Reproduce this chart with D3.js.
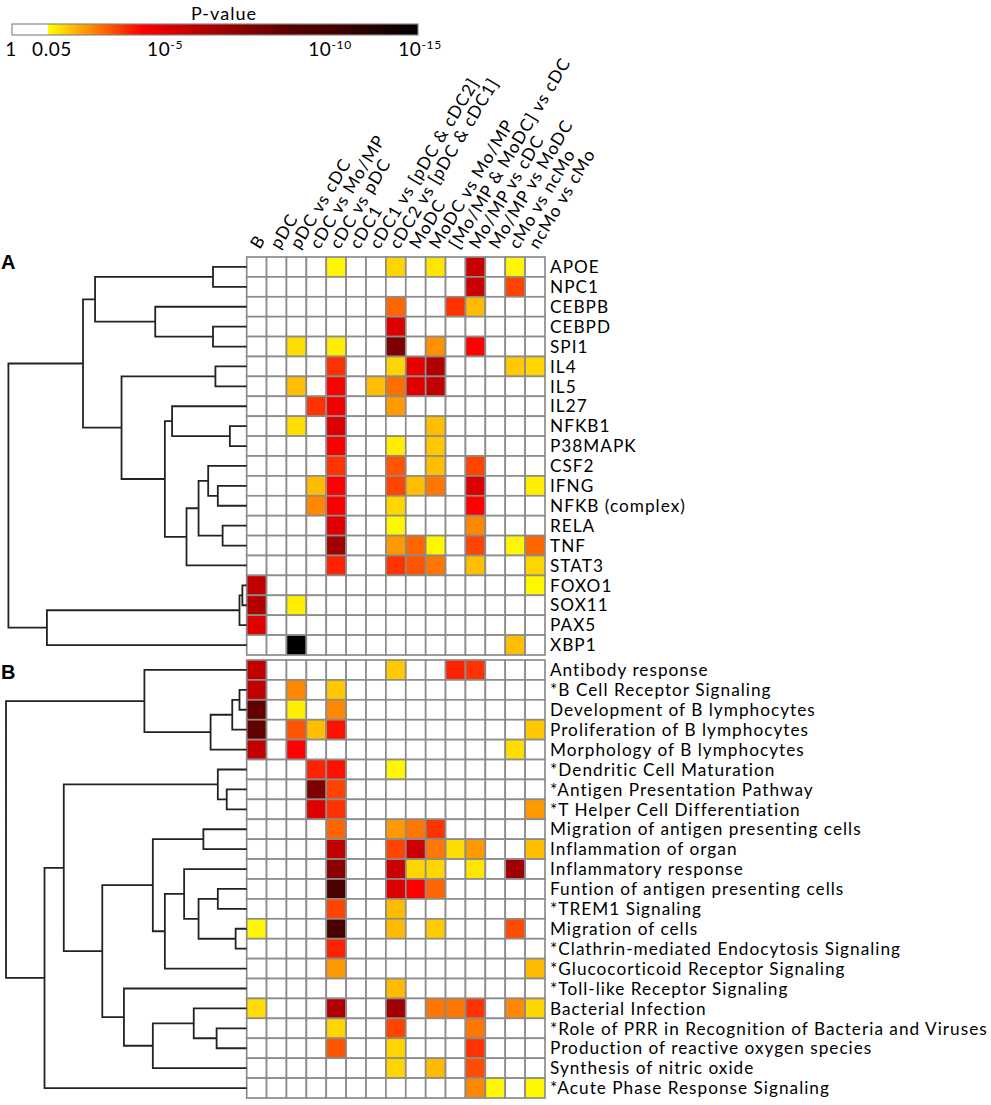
<!DOCTYPE html>
<html>
<head>
<meta charset="utf-8">
<script src="https://cdn.jsdelivr.net/npm/d3@7"></script>
<style>
  body { margin: 0; background: #fff; }
  text { font-family: Lato, "Open Sans", sans-serif; fill: #000; }
</style>
</head>
<body>
<svg id="chart" width="991" height="1105"></svg>
<script>
// columns of the heat map
const columns = ["B", "pDC", "pDC vs cDC", "cDC vs Mo/MP", "cDC vs pDC", "cDC1",
  "cDC1 vs [pDC & cDC2]", "cDC2 vs [pDC & cDC1]", "MoDC", "MoDC vs Mo/MP",
  "[Mo/MP & MoDC] vs cDC", "Mo/MP vs cDC", "Mo/MP vs MoDC", "cMo vs ncMo", "ncMo vs cMo"]

// panel A: upstream regulators, values are -log10(p), 0 = not significant
const genesA = ["APOE", "NPC1", "CEBPB", "CEBPD", "SPI1", "IL4", "IL5", "IL27", "NFKB1", "P38MAPK",
  "CSF2", "IFNG", "NFKB (complex)", "RELA", "TNF", "STAT3", "FOXO1", "SOX11", "PAX5", "XBP1"]
const logpA = [
  [0, 0, 0, 0, 1.4, 0, 0, 1.8, 0, 1.6, 0, 5.7, 0, 1.4, 0],
  [0, 0, 0, 0, 0, 0, 0, 0, 0, 0, 0, 5.6, 0, 3.5, 0],
  [0, 0, 0, 0, 0, 0, 0, 3.1, 0, 0, 3.7, 2.1, 0, 0, 0],
  [0, 0, 0, 0, 0, 0, 0, 5.2, 0, 0, 0, 0, 0, 0, 0],
  [0, 0, 1.7, 0, 1.5, 0, 0, 7.8, 0, 2.6, 0, 4.3, 0, 0, 0],
  [0, 0, 0, 0, 3.7, 0, 0, 1.8, 4.9, 6.3, 0, 0, 0, 1.95, 1.8],
  [0, 0, 2.05, 0, 4.3, 0, 2.05, 3.0, 5.1, 5.9, 0, 0, 0, 0, 0],
  [0, 0, 0, 3.7, 4.7, 0, 0, 2.5, 0, 0, 0, 0, 0, 0, 0],
  [0, 0, 1.7, 0, 5.2, 0, 0, 0, 0, 2.05, 0, 0, 0, 0, 0],
  [0, 0, 0, 0, 4.4, 0, 0, 1.5, 0, 1.95, 0, 0, 0, 0, 0],
  [0, 0, 0, 0, 3.7, 0, 0, 3.3, 0, 2.05, 0, 3.5, 0, 0, 0],
  [0, 0, 0, 2.1, 4.3, 0, 0, 3.5, 2.05, 2.9, 0, 5.2, 0, 0, 1.5],
  [0, 0, 0, 2.7, 4.4, 0, 0, 1.8, 0, 0, 0, 4.3, 0, 0, 0],
  [0, 0, 0, 0, 5.1, 0, 0, 1.4, 0, 0, 0, 2.7, 0, 0, 0],
  [0, 0, 0, 0, 6.8, 0, 0, 2.5, 3.1, 1.4, 0, 3.5, 0, 1.4, 3.1],
  [0, 0, 0, 0, 3.9, 0, 0, 3.7, 3.3, 2.9, 0, 2.05, 0, 0, 1.8],
  [5.9, 0, 0, 0, 0, 0, 0, 0, 0, 0, 0, 0, 0, 0, 1.4],
  [6.3, 0, 1.5, 0, 0, 0, 0, 0, 0, 0, 0, 0, 0, 0, 0],
  [5.1, 0, 0, 0, 0, 0, 0, 0, 0, 0, 0, 0, 0, 0, 0],
  [0, 0, 15, 0, 0, 0, 0, 0, 0, 0, 0, 0, 0, 2.05, 0]
]

// panel B: functions and pathways
const termsB = ["Antibody response", "*B Cell Receptor Signaling", "Development of B lymphocytes",
  "Proliferation of B lymphocytes", "Morphology of B lymphocytes", "*Dendritic Cell Maturation",
  "*Antigen Presentation Pathway", "*T Helper Cell Differentiation", "Migration of antigen presenting cells",
  "Inflammation of organ", "Inflammatory response", "Funtion of antigen presenting cells", "*TREM1 Signaling",
  "Migration of cells", "*Clathrin-mediated Endocytosis Signaling", "*Glucocorticoid Receptor Signaling",
  "*Toll-like Receptor Signaling", "Bacterial Infection", "*Role of PRR in Recognition of Bacteria and Viruses",
  "Production of reactive oxygen species", "Synthesis of nitric oxide", "*Acute Phase Response Signaling"]
const logpB = [
  [5.9, 0, 0, 0, 0, 0, 0, 1.95, 0, 0, 3.9, 3.7, 0, 0, 0],
  [5.9, 0, 2.7, 0, 1.95, 0, 0, 0, 0, 0, 0, 0, 0, 0, 0],
  [8.6, 0, 1.5, 0, 2.7, 0, 0, 0, 0, 0, 0, 0, 0, 0, 0],
  [8.6, 0, 3.3, 2.05, 4.1, 0, 0, 0, 0, 0, 0, 0, 0, 0, 1.95],
  [5.9, 0, 4.3, 0, 0, 0, 0, 0, 0, 0, 0, 0, 0, 1.7, 0],
  [0, 0, 0, 3.9, 4.1, 0, 0, 1.4, 0, 0, 0, 0, 0, 0, 0],
  [0, 0, 0, 7.8, 3.5, 0, 0, 0, 0, 0, 0, 0, 0, 0, 0],
  [0, 0, 0, 5.2, 3.7, 0, 0, 0, 0, 0, 0, 0, 0, 0, 2.5],
  [0, 0, 0, 0, 3.1, 0, 0, 2.5, 2.9, 3.7, 0, 0, 0, 0, 0],
  [0, 0, 0, 0, 5.9, 0, 0, 3.5, 5.6, 2.9, 1.7, 2.5, 0, 0, 2.05],
  [0, 0, 0, 0, 7.4, 0, 0, 5.6, 1.8, 1.8, 0, 1.6, 0, 6.8, 0],
  [0, 0, 0, 0, 9.6, 0, 0, 5.2, 4.3, 3.1, 0, 0, 0, 0, 0],
  [0, 0, 0, 0, 3.5, 0, 0, 2.1, 0, 0, 0, 0, 0, 0, 0],
  [1.4, 0, 0, 0, 9.9, 0, 0, 2.1, 0, 1.9, 0, 0, 0, 3.4, 0],
  [0, 0, 0, 0, 3.9, 0, 0, 0, 0, 0, 0, 0, 0, 0, 0],
  [0, 0, 0, 0, 2.5, 0, 0, 0, 0, 0, 0, 0, 0, 0, 2.1],
  [0, 0, 0, 0, 0, 0, 0, 2.1, 0, 0, 0, 0, 0, 0, 0],
  [1.7, 0, 0, 0, 6.3, 0, 0, 6.8, 0, 2.9, 2.9, 3.7, 0, 2.7, 1.8],
  [0, 0, 0, 0, 1.8, 0, 0, 3.5, 0, 0, 0, 2.9, 0, 0, 0],
  [0, 0, 0, 0, 3.3, 0, 0, 1.8, 0, 0, 0, 3.7, 0, 0, 0],
  [0, 0, 0, 0, 0, 0, 0, 1.8, 0, 2.1, 0, 3.4, 0, 0, 0],
  [0, 0, 0, 0, 0, 0, 0, 0, 0, 0, 0, 2.7, 1.4, 0, 1.4]
]

// row dendrograms: [left, right, height], leaves are row names
const treeA = [
  [
    [["APOE", "NPC1", 0.14], ["CEBPB", ["CEBPD", "SPI1", 0.14], 0.38], 0.63],
    [["IL4", "IL5", 0.13],
      [["IL27", ["NFKB1", "P38MAPK", 0.07], 0.31],
        [[["CSF2", ["IFNG", "NFKB (complex)", 0.12], 0.16], ["RELA", "TNF", 0.10], 0.20], "STAT3", 0.25],
        0.34],
      0.52],
    0.68],
  [[["FOXO1", "SOX11", 0.018], "PAX5", 0.03], "XBP1", 0.83],
  0.99]

const treeB = [
  ["Antibody response",
    [[["*B Cell Receptor Signaling", "Development of B lymphocytes", 0.03], "Proliferation of B lymphocytes", 0.06],
      "Morphology of B lymphocytes", 0.15],
    0.425],
  [
    [["*Dendritic Cell Maturation", ["*Antigen Presentation Pathway", "*T Helper Cell Differentiation", 0.083], 0.12],
      [
        [["Migration of antigen presenting cells", "Inflammation of organ", 0.18],
          [["Inflammatory response",
            [["Funtion of antigen presenting cells", "*TREM1 Signaling", 0.12],
              ["Migration of cells", "*Clathrin-mediated Endocytosis Signaling", 0.046], 0.20],
            0.26],
          "*Glucocorticoid Receptor Signaling", 0.34],
          0.39],
        ["*Toll-like Receptor Signaling",
          [["Bacterial Infection", ["*Role of PRR in Recognition of Bacteria and Viruses", "Production of reactive oxygen species", 0.125], 0.22],
            "Synthesis of nitric oxide", 0.39],
          0.51],
        0.60],
      0.76],
    "*Acute Phase Response Signaling", 0.84],
  1.0]

// colour legend (-log10 p)
const colorStops = [1.3, 2.5, 4.3, 6.5, 9, 15]
const colorHex = ["#ffff00", "#ff9900", "#ff0000", "#aa0000", "#550000", "#000000"]
const legendVals = [0, 1.3, 5, 10, 15]
const legendText = [["1", ""], ["0.05", ""], ["10", "-5"], ["10", "-10"], ["10", "-15"]]

const svg = d3.select("#chart")
svg.append("rect").attr("width", 991).attr("height", 1105).attr("fill", "#fff")

const color = d3.scaleLinear().domain(colorStops).range(colorHex).clamp(true)

const x = d3.scaleBand().domain(columns).range([246.7, 545]).padding(0)
const yA = d3.scaleBand().domain(genesA).range([257, 655])
const yB = d3.scaleBand().domain(termsB).range([660, 1098])
const dx = d3.scaleLinear().domain([0, 1]).range([246.7, 6])

// label font: keep height inside a row, widen with letter spacing to match the longest label
const fs = 17.2
const longest = "*Role of PRR in Recognition of Bacteria and Viruses"
const probe = svg.append("text").style("font-size", fs + "px").text(longest)
const ls = Math.max(0, (437 - probe.node().getComputedTextLength()) / (longest.length - 1))
probe.remove()

// legend
const lx = d3.scaleLinear().domain(legendVals).range([12, 48, 163, 328, 418])
const grad = svg.append("defs").append("linearGradient").attr("id", "pgrad")
  .attr("x1", 0).attr("x2", 1).attr("y1", 0).attr("y2", 0)
d3.range(0, 1.0001, 0.02).forEach(t => {
  const v = lx.invert(48 + t * (418 - 48))
  grad.append("stop").attr("offset", t).attr("stop-color", color(v))
})
svg.append("rect").attr("x", lx(0)).attr("y", 24).attr("width", lx(1.3) - lx(0)).attr("height", 11).attr("fill", "#fff")
svg.append("rect").attr("x", lx(1.3)).attr("y", 24).attr("width", lx(15) - lx(1.3)).attr("height", 11).attr("fill", "url(#pgrad)")
svg.append("rect").attr("x", lx(0)).attr("y", 24).attr("width", lx(15) - lx(0)).attr("height", 11)
  .attr("fill", "none").attr("stroke", "#888").attr("stroke-width", 1.2)
svg.append("text").attr("x", 224).attr("y", 20).attr("text-anchor", "middle")
  .style("font-size", "18px").style("letter-spacing", ls + "px").text("P-value")

const lt = svg.append("g").selectAll("text").data(legendVals).join("text")
  .attr("x", (d, i) => i == 0 ? lx(d) - 1 : lx(d) + (i == 1 ? 4 : 2))
  .attr("y", 56).attr("text-anchor", "middle")
  .style("font-size", "19px").style("letter-spacing", (ls * 0.6) + "px")
lt.append("tspan").text((d, i) => legendText[i][0])
lt.append("tspan").attr("dy", -7).style("font-size", "12px").text((d, i) => legendText[i][1])

// column labels
svg.append("g").selectAll("text").data(columns).join("text")
  .attr("transform", d => `translate(${x(d) + x.bandwidth() / 2 + 3},250) rotate(-59)`)
  .style("font-size", fs + "px").style("letter-spacing", ls + "px")
  .text(d => d)

function drawPanel(rows, vals, y, tree, tag, tagY) {
  const g = svg.append("g")
  const cells = []
  rows.forEach((r, i) => columns.forEach((c, j) => cells.push({ r, c, v: vals[i][j] })))
  g.selectAll("rect").data(cells).join("rect")
    .attr("x", d => x(d.c)).attr("y", d => y(d.r))
    .attr("width", x.bandwidth()).attr("height", y.bandwidth())
    .attr("fill", d => d.v > 0 ? color(d.v) : "#fff")
    .attr("stroke", "#8c8c8c").attr("stroke-width", 1.7)

  g.selectAll(".lab").data(rows).join("text")
    .attr("x", 550).attr("y", d => y(d) + y.bandwidth() / 2)
    .attr("dy", "0.36em")
    .style("font-size", fs + "px").style("letter-spacing", ls + "px")
    .text(d => d)

  // dendrogram
  const path = d3.path()
  function walk(node) {
    if (typeof node === "string") return { y: y(node) + y.bandwidth() / 2, h: 0 }
    const a = walk(node[0]), b = walk(node[1]), h = node[2]
    path.moveTo(dx(a.h), a.y); path.lineTo(dx(h), a.y)
    path.lineTo(dx(h), b.y); path.lineTo(dx(b.h), b.y)
    return { y: (a.y + b.y) / 2, h }
  }
  walk(tree)
  g.append("path").attr("d", path.toString())
    .attr("fill", "none").attr("stroke", "#222").attr("stroke-width", 1.8)

  svg.append("text").attr("x", 1).attr("y", tagY)
    .style("font-family", "'Liberation Sans', Arial, sans-serif")
    .style("font-weight", "bold").style("font-size", "20px").text(tag)
}

drawPanel(genesA, logpA, yA, treeA, "A", 269)
drawPanel(termsB, logpB, yB, treeB, "B", 679)
</script>
</body>
</html>
